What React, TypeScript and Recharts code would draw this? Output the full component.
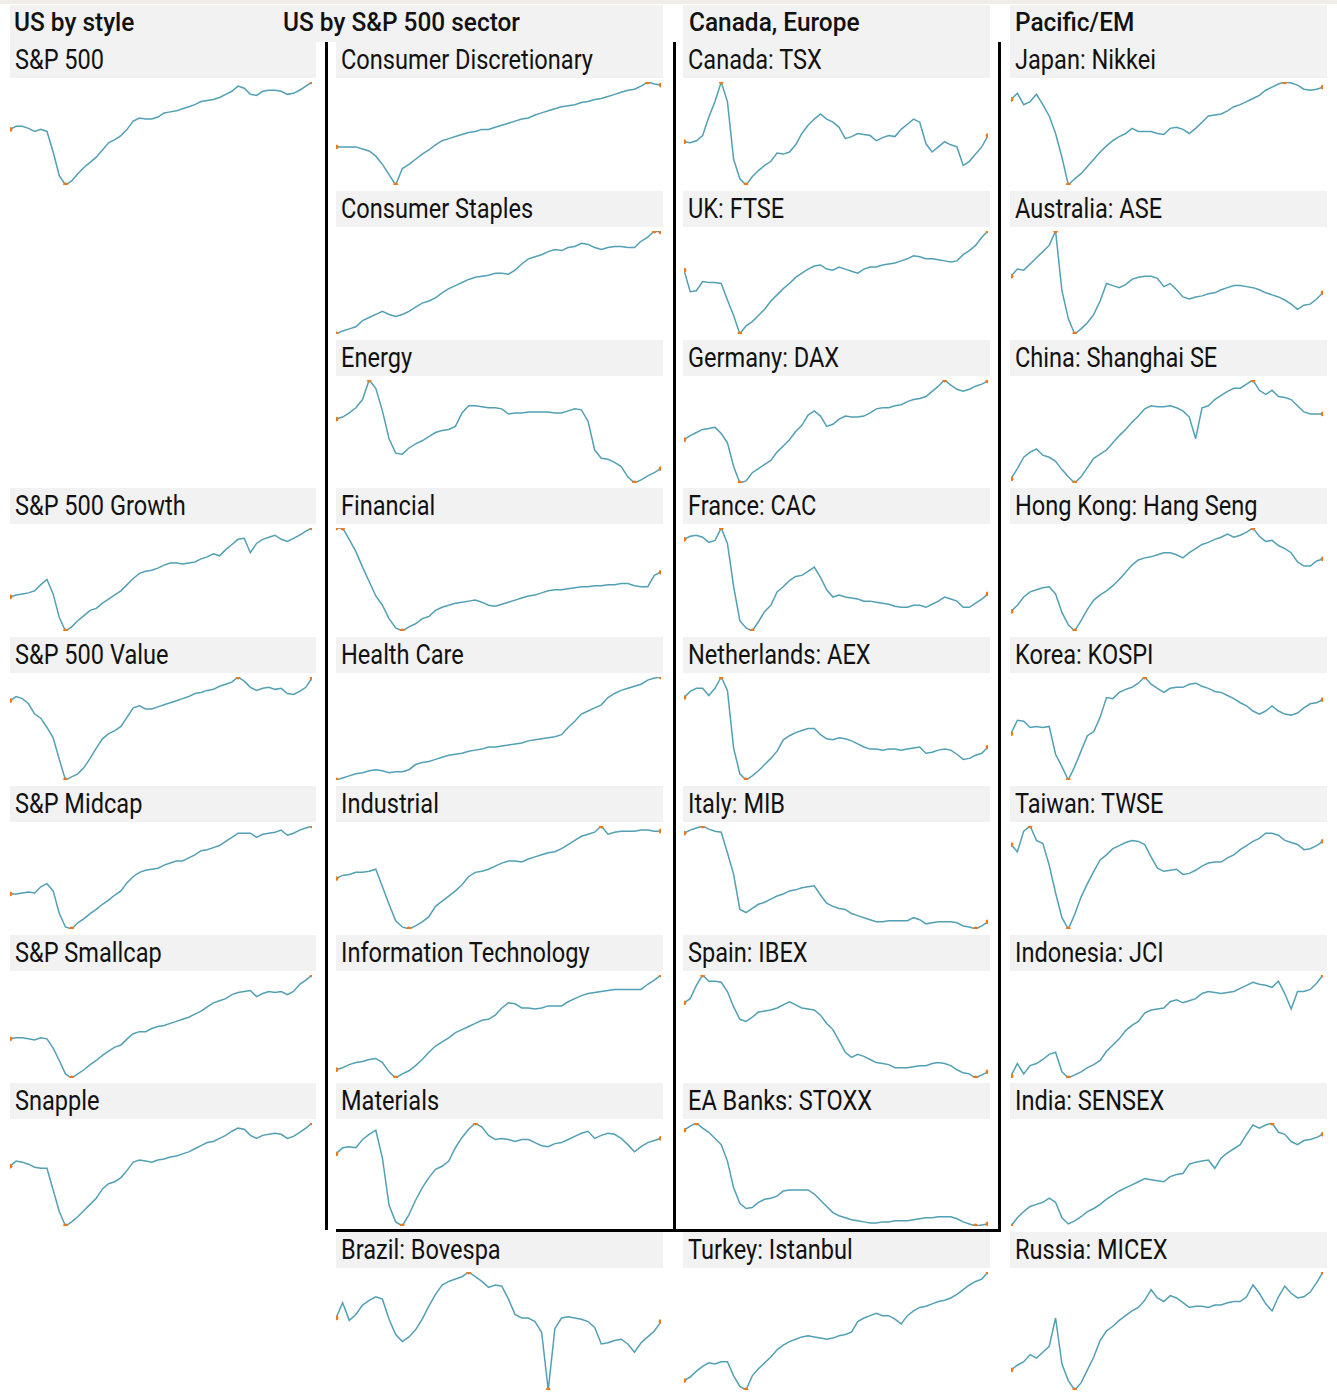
import { Line, LineChart, XAxis, YAxis } from "recharts";

// relative levels (0 = panel low, 100 = panel high)
const sp500 = [54,57,57,55,52,54,52,32,9,0, 4,11,17,22,27,34,41,44,48,54, 62,65,64,64,66,70,71,72,74,76, 78,81,82,83,85,88,91,96,94,88, 87,91,92,92,91,88,89,92,96,100];
const spGrowth = [33,35,36,37,39,45,50,36,13,0, 4,10,15,20,22,27,31,35,39,45, 51,56,58,59,61,64,66,66,65,66, 67,70,72,75,73,79,84,89,90,76, 85,89,91,93,89,87,90,93,97,100];
const spValue = [77,81,79,74,64,60,51,41,20,0, 3,6,12,21,31,40,45,48,52,61, 70,72,69,69,71,73,75,77,79,81, 84,85,87,88,91,93,95,100,96,90, 87,89,90,88,89,84,83,86,90,99];
const spMidcap = [34,34,35,36,35,41,44,37,15,2, 0,6,10,15,19,24,28,33,37,45, 51,55,57,58,59,62,64,66,66,69, 72,76,77,79,81,85,89,93,93,93, 89,92,93,94,96,91,93,96,98,100];
const spSmallcap = [38,39,39,38,37,39,38,29,17,4, 0,4,8,13,17,22,26,30,32,38, 43,45,45,48,50,51,53,55,57,59, 62,65,69,73,75,77,81,83,84,85, 79,82,84,83,84,81,84,91,95,100];
const snapple = [58,63,62,60,57,56,56,35,14,0, 4,9,15,21,27,36,41,43,47,54, 62,64,63,62,64,65,67,68,70,72, 75,78,81,82,85,88,92,95,94,88, 85,88,89,90,89,85,87,91,95,100];

const consDisc = [37,37,37,37,35,33,28,20,10,0, 16,20,25,30,34,39,43,45,47,49, 51,52,54,54,56,58,60,62,64,65, 68,70,72,74,76,77,78,80,81,83, 84,86,88,90,92,93,96,100,98,97];
const consStaples = [0,3,5,7,13,16,19,22,19,17, 19,22,26,30,32,35,40,44,47,50, 53,55,56,57,59,59,58,62,68,73, 75,77,80,82,81,84,85,88,87,84, 82,84,85,85,84,84,90,94,100,99];
const energy = [62,64,68,73,81,100,92,70,43,29, 28,34,38,41,45,49,51,52,55,68, 75,75,74,73,73,72,67,68,68,69, 69,69,69,68,68,70,72,71,60,32, 24,23,20,16,6,0,3,7,10,14];
const financial = [100,100,89,77,62,48,34,25,12,3, 0,4,7,12,14,20,23,25,27,28, 29,30,28,25,24,26,28,30,32,34, 35,37,39,40,40,41,42,43,43,44, 44,45,45,46,46,44,43,43,54,57];
const healthCare = [0,2,4,6,7,9,10,9,7,8, 8,10,15,17,18,20,22,24,25,26, 28,29,30,32,32,33,34,35,36,38, 39,40,41,42,44,51,57,64,67,70, 73,80,84,87,89,91,93,97,99,100];
const industrial = [49,52,53,55,55,56,58,41,24,8, 2,0,3,7,12,22,27,32,37,43, 51,55,56,58,61,64,66,66,65,68, 70,72,74,75,78,82,86,90,92,94, 100,92,94,95,95,95,96,96,95,95];
const infoTech = [8,10,13,15,16,18,19,15,6,0, 4,7,12,18,25,31,35,39,44,47, 50,53,56,57,61,68,73,72,68,68, 67,68,70,70,70,74,77,80,82,83, 84,85,86,86,86,86,86,91,95,100];
const materials = [70,76,77,76,84,89,93,66,20,4, 0,11,25,37,47,55,58,63,76,86, 94,100,96,88,84,85,84,82,84,84, 81,78,77,80,81,84,87,90,92,85, 88,90,89,85,79,72,77,81,83,85];
const bovespa = [61,74,59,64,72,76,79,77,60,47, 41,45,51,60,71,81,89,92,94,96, 100,96,92,87,89,88,77,64,61,61, 58,49,0,52,61,62,61,60,58,53, 39,40,42,43,39,32,40,45,50,58];

const tsx = [42,41,43,48,66,81,100,81,25,6, 0,8,14,19,23,31,30,32,39,50, 58,64,69,64,61,56,45,47,50,49, 48,43,46,48,47,54,59,64,61,40, 32,37,42,39,37,19,23,30,37,48];
const ftse = [62,41,42,51,50,50,49,33,18,0, 8,12,18,24,32,38,44,49,55,59, 63,66,67,63,62,65,63,61,59,63, 65,65,67,68,69,71,73,76,75,73, 73,72,71,70,71,77,81,86,94,100];
const dax = [42,46,49,52,53,54,48,39,16,0, 2,10,14,18,22,30,36,42,50,56, 66,70,65,55,57,62,65,64,64,65, 68,72,73,73,75,76,79,81,82,84, 89,94,100,95,91,89,91,94,96,99];
const cac = [89,92,93,91,86,88,100,85,43,10, 3,0,9,19,25,38,43,49,53,54, 58,62,52,40,33,35,33,32,31,29, 29,28,27,26,24,23,23,25,25,23, 26,29,33,31,29,23,23,27,31,36];
const aex = [80,86,89,89,82,89,100,87,31,6, 0,4,9,15,21,28,39,43,46,48, 50,50,44,40,39,41,40,38,35,32, 30,30,29,30,30,29,30,31,32,26, 27,29,30,29,25,20,21,24,26,32];
const mib = [93,96,98,100,97,95,94,74,53,19, 16,20,24,26,29,32,34,37,38,40, 41,42,33,25,22,20,19,15,13,11, 9,7,7,8,8,8,8,11,9,5, 6,7,7,7,6,3,2,0,3,7];
const ibex = [73,77,90,100,94,94,93,84,69,57, 55,59,64,65,66,68,71,74,71,68, 67,66,61,53,47,36,25,20,23,21, 18,15,14,13,10,10,10,11,12,12, 14,15,14,12,8,5,4,0,3,6];
const stoxxBanks = [93,97,100,95,91,85,79,63,37,22, 17,18,23,26,27,29,34,35,35,35, 35,31,25,19,13,10,8,6,5,4, 3,3,4,4,5,5,5,6,7,8, 8,9,9,9,7,4,2,0,1,2];
const istanbul = [8,11,16,20,23,22,24,24,12,3, 0,12,18,23,28,34,38,41,43,45, 46,45,44,43,44,46,47,49,58,61, 63,65,63,63,60,56,63,67,70,71, 73,75,76,78,81,85,89,92,94,100];

const nikkei = [83,89,78,81,88,78,67,50,27,0, 6,11,18,25,32,38,43,47,50,55, 52,52,52,50,49,55,56,54,50,55, 61,67,68,69,72,76,78,81,84,87, 92,95,98,100,99,97,93,92,93,95];
const ase = [56,63,62,68,74,80,86,100,42,15, 0,5,11,19,32,49,47,45,48,53, 55,56,56,54,46,49,43,36,34,36, 37,39,40,43,45,47,47,46,45,43, 40,38,36,33,29,24,28,29,34,40];
const shanghai = [4,14,25,30,33,27,25,21,13,6, 0,6,15,24,28,32,39,46,52,59, 65,72,75,74,74,75,73,70,64,43, 73,75,81,85,89,92,92,96,100,90, 86,90,84,83,81,75,69,67,67,67];
const hangSeng = [19,25,33,38,40,42,43,36,18,6, 0,10,21,30,35,39,44,50,57,64, 69,71,72,74,76,76,74,71,76,80, 84,86,89,91,94,91,93,96,100,92, 87,88,83,80,76,67,63,63,68,70];
const kospi = [45,58,57,51,52,51,52,25,13,0, 13,28,43,47,61,80,79,85,88,90, 94,100,93,89,85,89,90,90,93,94, 91,89,86,85,82,79,75,72,67,64, 67,72,67,64,63,65,70,74,75,78];
const twse = [82,75,95,100,86,83,62,35,11,0, 14,31,44,56,67,72,78,81,84,86, 85,82,70,59,56,57,58,53,54,57, 61,64,65,65,69,72,77,81,85,88, 93,93,91,86,84,82,77,78,81,85];
const jci = [2,14,4,12,14,18,23,25,6,0, 3,6,10,13,17,26,32,38,46,51, 55,63,66,67,68,74,76,73,75,77, 82,84,83,82,83,84,87,90,93,91, 90,88,94,82,67,84,84,86,92,100];
const sensex = [0,8,14,19,21,23,27,23,8,2, 5,9,14,17,21,26,30,34,37,40, 43,46,45,44,43,48,50,51,60,62, 63,64,56,66,71,75,79,89,98,95, 98,100,91,89,82,79,83,84,86,89];
const micex = [17,21,24,30,27,32,37,61,22,8, 0,6,17,28,42,50,54,59,63,67, 70,76,85,78,75,80,78,74,70,71, 71,70,72,72,74,75,75,79,89,82, 73,67,79,88,82,78,79,83,91,100];

const groupTitles = ["US by style", "US by S&P 500 sector", "Canada, Europe", "Pacific/EM"];

type Panel = { title: string; values: number[]; col: number; row: number };

const panels: Panel[] = [
  { title: "S&P 500", values: sp500, col: 0, row: 0 },
  { title: "S&P 500 Growth", values: spGrowth, col: 0, row: 3 },
  { title: "S&P 500 Value", values: spValue, col: 0, row: 4 },
  { title: "S&P Midcap", values: spMidcap, col: 0, row: 5 },
  { title: "S&P Smallcap", values: spSmallcap, col: 0, row: 6 },
  { title: "Snapple", values: snapple, col: 0, row: 7 },
  { title: "Consumer Discretionary", values: consDisc, col: 1, row: 0 },
  { title: "Consumer Staples", values: consStaples, col: 1, row: 1 },
  { title: "Energy", values: energy, col: 1, row: 2 },
  { title: "Financial", values: financial, col: 1, row: 3 },
  { title: "Health Care", values: healthCare, col: 1, row: 4 },
  { title: "Industrial", values: industrial, col: 1, row: 5 },
  { title: "Information Technology", values: infoTech, col: 1, row: 6 },
  { title: "Materials", values: materials, col: 1, row: 7 },
  { title: "Brazil: Bovespa", values: bovespa, col: 1, row: 8 },
  { title: "Canada: TSX", values: tsx, col: 2, row: 0 },
  { title: "UK: FTSE", values: ftse, col: 2, row: 1 },
  { title: "Germany: DAX", values: dax, col: 2, row: 2 },
  { title: "France: CAC", values: cac, col: 2, row: 3 },
  { title: "Netherlands: AEX", values: aex, col: 2, row: 4 },
  { title: "Italy: MIB", values: mib, col: 2, row: 5 },
  { title: "Spain: IBEX", values: ibex, col: 2, row: 6 },
  { title: "EA Banks: STOXX", values: stoxxBanks, col: 2, row: 7 },
  { title: "Turkey: Istanbul", values: istanbul, col: 2, row: 8 },
  { title: "Japan: Nikkei", values: nikkei, col: 3, row: 0 },
  { title: "Australia: ASE", values: ase, col: 3, row: 1 },
  { title: "China: Shanghai SE", values: shanghai, col: 3, row: 2 },
  { title: "Hong Kong: Hang Seng", values: hangSeng, col: 3, row: 3 },
  { title: "Korea: KOSPI", values: kospi, col: 3, row: 4 },
  { title: "Taiwan: TWSE", values: twse, col: 3, row: 5 },
  { title: "Indonesia: JCI", values: jci, col: 3, row: 6 },
  { title: "India: SENSEX", values: sensex, col: 3, row: 7 },
  { title: "Russia: MICEX", values: micex, col: 3, row: 8 },
];

const FONT = "Roboto, 'Liberation Sans', sans-serif";
const LINE = "#52a0b4";
const DOT = "#ef7818";
const STRIP = "#f2f2f2";
const PAD = 4;

const stripX = [[10, 316], [336, 663], [683, 990], [1010, 1327]];
const lineX = [[10, 312], [336, 661], [684, 988], [1011, 1323]];
const headerX = [[10, 663], [683, 990], [1010, 1327]];
const headerTextX = [14, 283, 689, 1015];

const stripTop = (row: number) => 42 + row * 148.75;

// squeeze the available sans font to the condensed width of the original lettering
function widthScale(text: string, font: string, target: number) {
  try {
    const ctx = document.createElement("canvas").getContext("2d");
    if (!ctx) return 0.87;
    ctx.font = font;
    const w = ctx.measureText(text).width;
    return w > 0 ? target / w : 0.87;
  } catch {
    return 0.87;
  }
}

const titleScale = widthScale("Consumer Discretionary", "400 27px Roboto", 252);
const headScale = widthScale("US by S&P 500 sector", "500 26px Roboto", 237);

function Spark({ values, left, top, width, height }: { values: number[]; left: number; top: number; width: number; height: number }) {
  const data = values.map((v, i) => ({ i, v }));
  const lo = Math.min(...values);
  const hi = Math.max(...values);
  const last = values.length - 1;
  const renderDot = (p: any) => {
    const v = values[p.index];
    const mark = p.index === 0 || p.index === last || v === lo || v === hi;
    if (!mark) return <g key={`n${p.index}`} />;
    return <circle key={`d${p.index}`} cx={p.cx} cy={p.cy} r={2.4} fill={DOT} stroke="none" />;
  };
  return (
    <div style={{ position: "absolute", left: left - PAD, top: top - PAD }}>
      <LineChart
        width={width + 2 * PAD}
        height={height + 2 * PAD}
        data={data}
        margin={{ top: PAD, right: PAD, bottom: PAD, left: PAD }}
      >
        <XAxis dataKey="i" type="number" domain={[0, last]} allowDataOverflow hide />
        <YAxis type="number" domain={[lo, hi]} allowDataOverflow hide />
        <Line
          dataKey="v"
          type="linear"
          stroke={LINE}
          strokeWidth={1.5}
          dot={renderDot}
          activeDot={false}
          isAnimationActive={false}
        />
      </LineChart>
    </div>
  );
}

export default function App() {
  return (
    <div
      style={{
        position: "absolute",
        left: 0,
        top: 0,
        width: 1337,
        height: 1393,
        background: "#fff",
        overflow: "hidden",
        fontFamily: FONT,
        color: "#111",
      }}
    >
      <div style={{ position: "absolute", left: 0, top: 0, width: 1337, height: 4, background: "#efeee6" }} />
      {headerX.map(([a, b], k) => (
        <div key={`h${k}`} style={{ position: "absolute", left: a, top: 5, width: b - a, height: 37, background: STRIP }} />
      ))}
      {groupTitles.map((t, k) => (
        <div
          key={`ht${k}`}
          style={{
            position: "absolute",
            left: headerTextX[k],
            top: 5,
            lineHeight: "35px",
            fontSize: 26,
            fontWeight: 500,
            whiteSpace: "nowrap",
            transform: `scaleX(${headScale})`,
            transformOrigin: "left center",
          }}
        >
          {t}
        </div>
      ))}
      {panels.map((p) => {
        const st = stripTop(p.row);
        const [sa, sb] = stripX[p.col];
        const [la, lb] = lineX[p.col];
        const plotTop = st + 40;
        const plotH = p.row < 8 ? 103 : 118;
        return (
          <div key={p.title}>
            <div style={{ position: "absolute", left: sa, top: st, width: sb - sa, height: 36, background: STRIP }} />
            <div
              style={{
                position: "absolute",
                left: sa + 5,
                top: st,
                lineHeight: "36px",
                fontSize: 27,
                fontWeight: 400,
                whiteSpace: "nowrap",
                transform: `scaleX(${titleScale})`,
                transformOrigin: "left center",
              }}
            >
              {p.title}
            </div>
            <Spark values={p.values} left={la} top={plotTop} width={lb - la} height={plotH} />
          </div>
        );
      })}
      <div style={{ position: "absolute", left: 325, top: 42, width: 3, height: 1188, background: "#000" }} />
      <div style={{ position: "absolute", left: 673, top: 42, width: 3, height: 1190, background: "#000" }} />
      <div style={{ position: "absolute", left: 998, top: 42, width: 3, height: 1190, background: "#000" }} />
      <div style={{ position: "absolute", left: 336, top: 1229, width: 665, height: 3, background: "#000" }} />
    </div>
  );
}
